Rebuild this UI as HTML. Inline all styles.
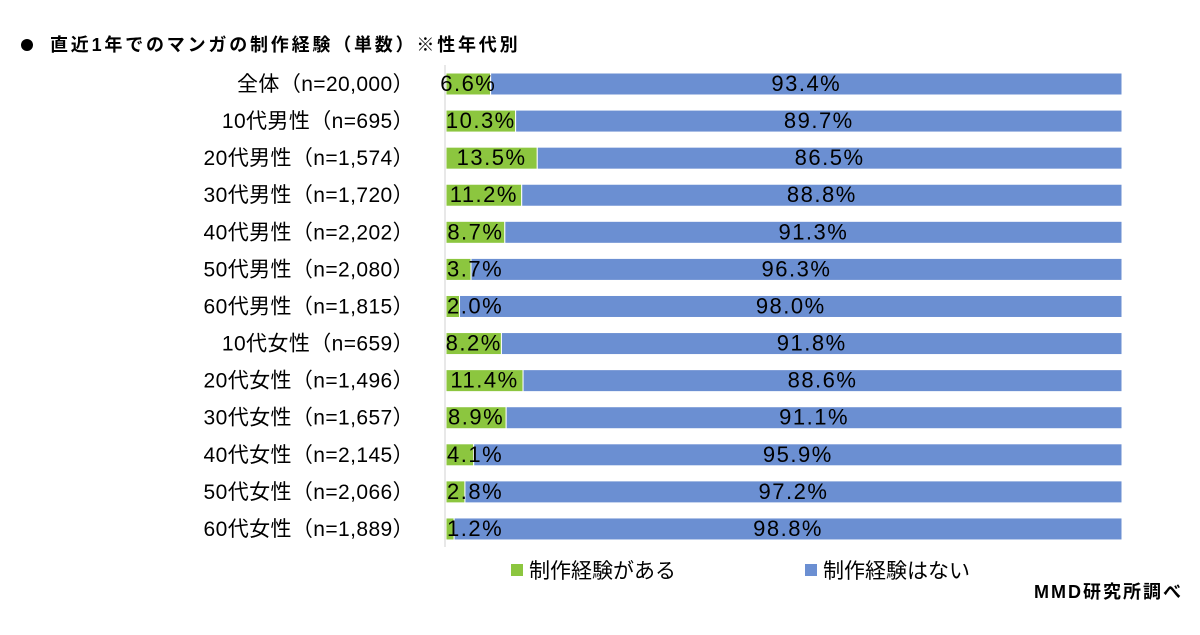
<!DOCTYPE html>
<html><head><meta charset="utf-8"><style>
html,body{margin:0;padding:0;background:#fff;}
body{width:1200px;height:630px;overflow:hidden;font-family:"Liberation Sans","Noto Sans CJK JP",sans-serif;}
svg text{font-family:"Liberation Sans","Noto Sans CJK JP",sans-serif;}
</style></head><body>
<svg id="chart" width="1200" height="630" xmlns="http://www.w3.org/2000/svg">
<circle cx="27" cy="45" r="6" fill="#000"/>
<text x="50" y="51" font-size="18" font-weight="bold" letter-spacing="2.8" fill="#000">直近1年でのマンガの制作経験（単数）※性年代別</text>
<line x1="445" y1="65" x2="445" y2="547" stroke="#d0d0d0" stroke-width="1"/>
<g id="bars"></g>
<rect x="511" y="564" width="12" height="12" fill="#8cc63f"/>
<text x="529" y="578" font-size="21" fill="#000">制作経験がある</text>
<rect x="805" y="564" width="12" height="12" fill="#6b8fd2"/>
<text x="823" y="578" font-size="21" fill="#000">制作経験はない</text>
<text x="1183" y="598" font-size="18" font-weight="bold" letter-spacing="2" text-anchor="end" fill="#000">MMD研究所調べ</text>
</svg>
<script>
const categories = ["全体（n=20,000）","10代男性（n=695）","20代男性（n=1,574）","30代男性（n=1,720）","40代男性（n=2,202）","50代男性（n=2,080）","60代男性（n=1,815）","10代女性（n=659）","20代女性（n=1,496）","30代女性（n=1,657）","40代女性（n=2,145）","50代女性（n=2,066）","60代女性（n=1,889）"];
const yesValues = [6.6,10.3,13.5,11.2,8.7,3.7,2.0,8.2,11.4,8.9,4.1,2.8,1.2];
const noValues = [93.4,89.7,86.5,88.8,91.3,96.3,98.0,91.8,88.6,91.1,95.9,97.2,98.8];
const x0 = 446, x1 = 1122, yTop = 84, pitch = 37.08, bh = 22;
const xs = v => x0 + (x1 - x0) * v / 100;
const yc = i => yTop + i * pitch;
const g = document.getElementById('bars');
const NS = 'http://www.w3.org/2000/svg';
function mk(tag, attrs){const e=document.createElementNS(NS,tag);for(const k in attrs)e.setAttribute(k,attrs[k]);return e;}
categories.forEach((c,i)=>{
  const y = yc(i);
  const lab = mk('text',{x:414,y:y+7,'font-size':21,'letter-spacing':0.4,'text-anchor':'end',fill:'#000'});
  
  
  lab.textContent = c; g.appendChild(lab);
  const yv = yesValues[i], nv = noValues[i];
  const r1 = mk('rect',{x:xs(0),y:y-bh/2,width:xs(yv)-xs(0),height:bh,fill:'#8cc63f',stroke:'#fff','stroke-width':1});
  
  
  g.appendChild(r1);
  const r2 = mk('rect',{x:xs(yv),y:y-bh/2,width:xs(yv+nv)-xs(yv),height:bh,fill:'#6b8fd2',stroke:'#fff','stroke-width':1});
  
  
  g.appendChild(r2);
  const t1 = mk('text',{x:0,y:y+7,'font-size':22,'letter-spacing':1.5,fill:'#000'});
  
  
  t1.textContent = yv.toFixed(1)+'%'; g.appendChild(t1);
  const w1 = t1.getComputedTextLength();
  let cx = (xs(0)+xs(yv))/2;
  let sx = cx - w1/2;
  if (sx < 437 && cx - w1/2 < x0) sx = Math.max(sx, yv < 5 ? 447 : 437);
  t1.setAttribute('x', sx);
  const t2 = mk('text',{x:(xs(yv)+xs(yv+nv))/2,y:y+7,'font-size':22,'letter-spacing':1.5,'text-anchor':'middle',fill:'#000'});
  
  
  t2.textContent = nv.toFixed(1)+'%'; g.appendChild(t2);
});
</script>
</body></html>
